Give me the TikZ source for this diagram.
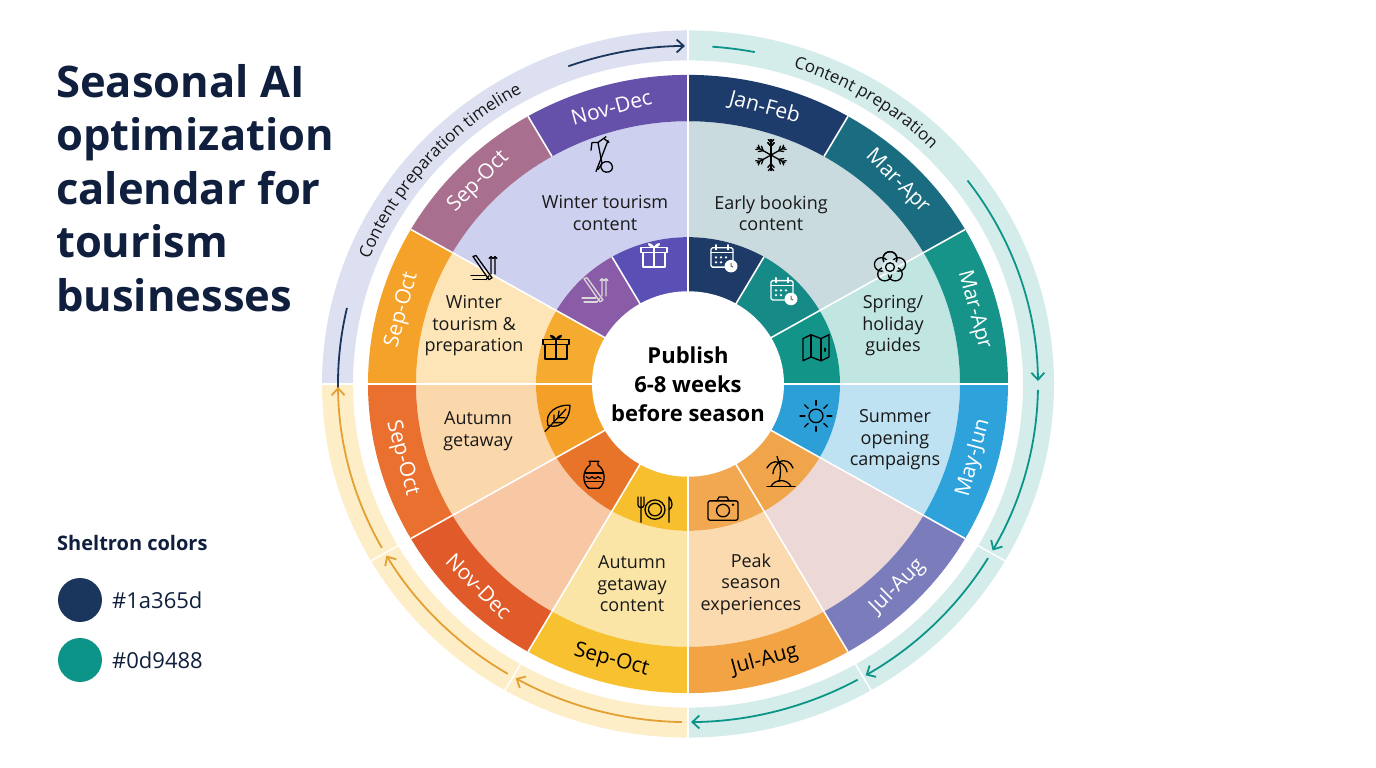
\documentclass[tikz,border=0pt]{standalone}
\usepackage{fontspec}
\setmainfont{Open Sans}
\usetikzlibrary{arrows.meta,decorations.text}
\definecolor{navy}{HTML}{1A365D}
\definecolor{tealc}{HTML}{0D9488}
\definecolor{ttl}{HTML}{0F1F3D}
\newcommand\wseg[5]{\fill[#5] (#3:#1) arc (#3:#4:#1) -- (#4:#2) arc (#4:#3:#2) -- cycle;}
\tikzset{
  ic/.style={line width=1.3pt,line cap=round,line join=round},
  lab/.style={font=\fontsize{21}{21}\selectfont},
  mid/.style={font=\fontsize{18}{21.5}\selectfont,align=center,text=black!90},
  divw/.style={white,line width=1.6pt},
  arcnavy/.style={navy,line width=1.8pt},
  arcteal/.style={tealc,line width=1.8pt},
  arcyel/.style={color={rgb,255:red,228;green,160;blue,50},line width=1.8pt},
  tip/.style={-{Straight Barb[length=7pt,width=13pt,line width=1.8pt]}}
}
\newcommand\icalendar[2]{\begin{scope}[shift={#1},ic,draw=#2]
 \draw[rounded corners=1.5pt] (-11,-10) rectangle (11,10); \draw (-11,5)--(11,5); \draw (-6,8)--(-6,13) (6,8)--(6,13);
 \foreach \x in {-6,-1,4}{\fill[#2] (\x,0) circle (1.3pt);} \foreach \x in {-6,-1}{\fill[#2] (\x,-5) circle (1.3pt);}
 \fill[#2] (9,-9) circle (6.5pt); \draw[black!60,line width=1pt] (9,-9)--(9,-6) (9,-9)--(11,-10);
\end{scope}}
\newcommand\igift[2]{\begin{scope}[shift={#1},ic,draw=#2]
 \draw (-11,-11) rectangle (11,4); \draw (-13,4) rectangle (13,9); \draw (0,-11)--(0,9);
 \draw (0,9) .. controls (-4,16) and (-10,13) .. (0,9); \draw (0,9) .. controls (4,16) and (10,13) .. (0,9);
\end{scope}}
\newcommand\iskis[2]{\begin{scope}[shift={#1},ic,draw=#2]
 \draw (-10,12)--(6,-12)--(9,-10)--(-7,13)--cycle; \draw (6,-8)--(3,-12);
 \draw (8,12)--(8,-6) (12,12)--(12,-6) (6,10)--(8,12)--(10,10) (10,10)--(12,12)--(14,10);
 \draw (-12,-8)--(2,-8) (-10,-12)--(3,-12);
\end{scope}}
\newcommand\ileaf[2]{\begin{scope}[shift={#1},ic,draw=#2]
 \draw (-10,-8) .. controls (-14,6) and (0,14) .. (12,13) .. controls (12,0) and (4,-12) .. (-10,-8) -- cycle;
 \draw (-13,-14)--(8,9); \draw (-4,-5)--(-4,3) (0,0)--(1,7) (-4,-5)--(4,-5) (0,0)--(7,0);
\end{scope}}
\newcommand\ivase[2]{\begin{scope}[shift={#1},ic,draw=#2]
 \draw (-5,15)--(5,15) (-4,15)--(-4,11) .. controls (-12,6) and (-12,-8) .. (-5,-13) -- (5,-13) .. controls (12,-8) and (12,6) .. (4,11)--(4,15);
 \draw (-9,3)--(9,3) (-9,-6)--(9,-6) (-5,-13)--(5,-13);
 \draw (-8,-1)--(-5,-3)--(-2,-1)--(1,-3)--(4,-1)--(7,-3);
\end{scope}}
\newcommand\icutlery[2]{\begin{scope}[shift={#1},ic,draw=#2]
 \draw (0,0) circle (10); \draw (0,0) circle (6.5);
 \draw (-17,13)--(-17,5) (-14,13)--(-14,-13) (-11,13)--(-11,5) (-17,5) .. controls (-17,1) and (-11,1) .. (-11,5);
 \draw (14,-13)--(14,13) .. controls (18,8) and (18,2) .. (14,0);
\end{scope}}
\newcommand\icamera[2]{\begin{scope}[shift={#1},ic,draw=#2]
 \draw[rounded corners=2pt] (-15,-11) rectangle (15,9); \draw (-6,9)--(-4,13)--(4,13)--(6,9);
 \draw (0,-1) circle (6.5); \fill[#2] (10,5) circle (1.3pt);
\end{scope}}
\newcommand\ipalm[2]{\begin{scope}[shift={#1},ic,draw=#2]
 \draw (-14,-13)--(14,-13); \draw (-10,-13) .. controls (-6,-5) and (6,-5) .. (10,-13);
 \draw (-2,-8) .. controls (0,0) and (0,6) .. (-2,12);
 \draw (-2,12) .. controls (-8,14) and (-12,10) .. (-14,6) (-2,12) .. controls (4,16) and (10,12) .. (12,6)
   (-2,12) .. controls (-6,8) and (-8,4) .. (-8,0) (-2,12) .. controls (4,10) and (6,4) .. (6,2) (-2,12)--(-4,18);
\end{scope}}
\newcommand\isun[2]{\begin{scope}[shift={#1},ic,draw=#2]
 \draw (0,0) circle (7); \foreach \a in {0,45,...,315}{\draw (\a:11)--(\a:16);}
\end{scope}}
\newcommand\imap[2]{\begin{scope}[shift={#1},ic,draw=#2]
 \draw (-13,-13)--(-13,10)--(-5,14)--(5,10)--(13,14)--(13,-9)--(5,-13)--(-5,-9)--cycle;
 \draw (-5,14)--(-5,-9) (5,10)--(5,-13); \draw (9,0)--(9,-3);
\end{scope}}
\newcommand\isnow[2]{\begin{scope}[shift={#1},ic,draw=#2]
 \foreach \a in {90,150,...,450}{\draw (0,0)--(\a:16); \draw (\a:9)++(\a+40:5)--(\a:9)--++(\a-40:5); \draw (\a:13)++(\a+40:4)--(\a:13)--++(\a-40:4);}
\end{scope}}
\newcommand\iflower[2]{\begin{scope}[shift={#1},ic,draw=#2]
 \foreach \a in {90,162,...,450}{\draw (\a:9) circle (7);} \fill[white!85!teal] (0,0) circle (8); \draw (0,0) circle (4.5);
\end{scope}}
\newcommand\iaxe[2]{\begin{scope}[shift={#1},ic,draw=#2]
 \draw (-8,14)--(-2,14)--(2,-8)--(-2,-14) (-8,14)--(-9,6); \draw (-2,14)--(6,20) (4,18)--(9,14);
 \draw (-4,-16)--(8,16); \draw (5,-6) .. controls (10,-4) and (14,-10) .. (12,-14) .. controls (10,-18) and (2,-18) .. (1,-12) .. controls (0,-8) and (3,-6) .. (5,-6);
\end{scope}}
\begin{document}
\begin{tikzpicture}[x=1pt,y=1pt]
\useasboundingbox (-688,-382) rectangle (688,386);
\fill[white] (-688,-382) rectangle (688,386);
% title
\node[anchor=north west,align=left,text=ttl,font=\fontsize{43.5}{53.5}\selectfont\bfseries,inner sep=0] at (-632,322) {Seasonal AI\\optimization\\calendar for\\tourism\\businesses};
\node[anchor=west,text=ttl,font=\fontsize{20}{20}\selectfont\bfseries,inner sep=0] (leg) at (-631,-157) {Sheltron colors};
\fill[navy] (-608,-214) circle (22); \node[anchor=west,inner sep=0,font=\fontsize{22}{22}\selectfont,text=ttl] (l1) at (-576,-214) {\#1a365d};
\fill[tealc] (-608,-274) circle (22); \node[anchor=west,inner sep=0,font=\fontsize{22}{22}\selectfont,text=ttl] (l2) at (-576,-274) {\#0d9488};
\begin{scope}[yshift=2pt,yscale=0.966]
% outer band
\wseg{335}{366}{90}{180}{color={rgb,255:red,221;green,224;blue,241}}
\wseg{335}{366}{-90}{90}{color={rgb,255:red,213;green,237;blue,234}}
\wseg{335}{366}{180}{270}{color={rgb,255:red,253;green,238;blue,200}}
\foreach \a in {-30,-60,210,240}{\draw[white,line width=1.5pt] (\a:334)--(\a:367);}
\draw[white,line width=2pt] (90:334)--(90:367) (-90:334)--(-90:367) (180:334)--(180:367);
% middle region
\wseg{152}{272}{90}{150}{color={rgb,255:red,205;green,208;blue,238}}
\wseg{152}{272}{150}{180}{color={rgb,255:red,253;green,229;blue,183}}
\wseg{152}{272}{180}{210}{color={rgb,255:red,251;green,215;blue,172}}
\wseg{152}{272}{210}{240}{color={rgb,255:red,248;green,200;blue,165}}
\wseg{152}{272}{240}{270}{color={rgb,255:red,251;green,229;blue,166}}
\wseg{152}{272}{-90}{-60}{color={rgb,255:red,251;green,218;blue,176}}
\wseg{152}{272}{-60}{-30}{color={rgb,255:red,236;green,216;blue,214}}
\wseg{152}{272}{-30}{0}{color={rgb,255:red,190;green,226;blue,242}}
\wseg{152}{272}{0}{30}{color={rgb,255:red,193;green,229;blue,225}}
\wseg{152}{272}{30}{90}{color={rgb,255:red,201;green,219;blue,222}}
% inner ring
\foreach \a/\c in {60/1E3A66,30/168A86,0/129489,-30/2B9FD6,-60/F0A54A,-90/F2A850,-120/F7BF2E,-150/E8742A,180/F4A028,150/F5AA30,120/8A5CA8,90/5A4FB5}{
  \definecolor{tmp}{HTML}{\c}\wseg{95}{152}{\a}{\a+30}{tmp}}
% outer ring
\foreach \a/\c in {60/1D3C6B,30/1A6D80,0/16948A,-30/2EA3DB,-60/7B7CBC,-90/F2A444,-120/F8C12F,-150/E05A2A,180/EA7030,150/F4A22A,120/A8708E,90/6550AA}{
  \definecolor{tmp}{HTML}{\c}\wseg{272}{320}{\a}{\a+30}{tmp}}
% dividers
\foreach \a in {0,30,...,330}{\draw[divw] (\a:95)--(\a:152) (\a:272)--(\a:320);}
\foreach \a in {90,30,0,-30,-60,-90,-120,-150,180,150}{\draw[divw] (\a:152)--(\a:272);}
% center
\fill[white] (0,0) circle (96);
\node[font=\fontsize{22}{29}\selectfont\bfseries,align=center,text=black] (ctr) at (0,0) {Publish\\6-8 weeks\\before season};
% ring labels
\foreach \a/\t/\c in {75/Jan-Feb/white,45/Mar-Apr/white,15/Mar-Apr/white,-15/May-Jun/white,-45/Jul-Aug/white,-75/Jul-Aug/black,-105/Sep-Oct/black,-135/Nov-Dec/white,-165/Sep-Oct/white,165/Sep-Oct/white,135/Sep-Oct/white,105/Nov-Dec/white}{
  \pgfmathsetmacro\rot{sin(\a)>=0 ? \a-90 : \a+90}
  \node[lab,text=\c,rotate=\rot] at (\a:296) {\t};}
% middle texts
\node[mid] (t1) at (-83,177) {Winter tourism\\content};
\node[mid] (t2) at (83,177) {Early booking\\content};
\node[mid] (t3) at (-214,60) {Winter\\tourism \&\\preparation};
\node[mid] (t4) at (205,60) {Spring/\\holiday\\guides};
\node[mid] (t5) at (-210,-49) {Autumn\\getaway};
\node[mid] (t6) at (207,-58) {Summer\\opening\\campaigns};
\node[mid] (t7) at (-56,-207) {Autumn\\getaway\\content};
\node[mid] (t8) at (63,-207) {Peak\\season\\experiences};
% middle icons
\iaxe{(-88,236)}{black}
\isnow{(83,237)}{black}
\iskis{(-205,120)}{black}
\iflower{(202,121)}{black}
% inner icons
\icalendar{(34,131)}{white}
\icalendar{(94,97)}{white}
\imap{(128,37)}{black}
\isun{(128,-33)}{black}
\ipalm{(93,-93)}{black}
\icamera{(35,-130)}{black}
\icutlery{(-33,-130)}{black}
\ivase{(-94,-95)}{black}
\ileaf{(-130,-35)}{black}
\igift{(-132,37)}{black}
\iskis{(-94,97)}{white!85!black}
\igift{(-34,132)}{white}
% outer arcs
\draw[arcnavy] (181:350) arc (181:167:350);
\draw[arcnavy,tip] (110:350) arc (110:90.5:350);
\path[decorate,decoration={text along path,text align=center,text color=black!90,text={|\fontsize{17}{17}\selectfont|Content preparation timeline}}] (166:344) arc (166:111:344);
\draw[arcteal] (86:350) arc (86:79:350);
\path[decorate,decoration={text along path,text align=center,text color=black!90,text={|\fontsize{17}{17}\selectfont|Content preparation}}] (79:344) arc (79:38:344);
\draw[arcteal,tip] (37:350) arc (37:0.5:350);
\draw[arcteal,tip] (-1:350) arc (-1:-29.5:350);
\draw[arcteal,tip] (-31:350) arc (-31:-59.5:350);
\draw[arcteal,tip] (-61:350) arc (-61:-89.5:350);
\draw[arcyel,tip] (269:350) arc (269:240.5:350);
\draw[arcyel,tip] (239:350) arc (239:210.5:350);
\draw[arcyel,tip] (209:350) arc (209:180.5:350);
\end{scope}
\end{tikzpicture}
\end{document}
